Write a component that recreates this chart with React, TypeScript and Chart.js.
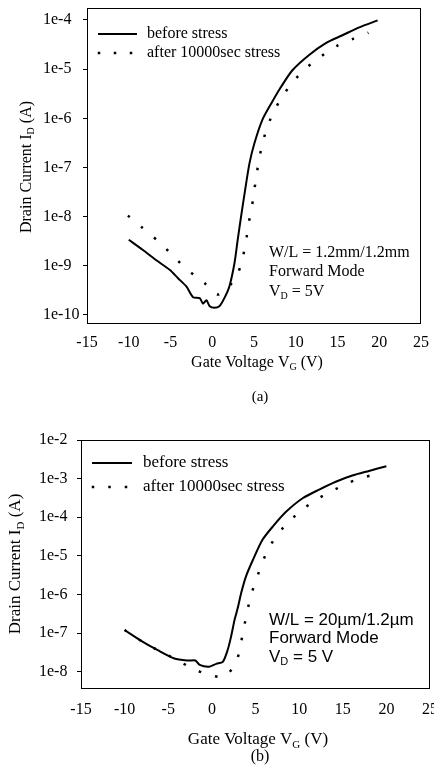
import React, { useEffect, useRef } from "react";
import { Chart, registerables } from "chart.js";

Chart.register(...registerables);

// ---------- shared ----------
const xTicks = [-15, -10, -5, 0, 5, 10, 15, 20, 25];
const seriesLabels = ["before stress", "after 10000sec stress"];

// ---------- chart (a) ----------
const vgBeforeA = [-10, -8.3, -6.7, -5.1, -4.1, -3.1, -2.3, -1.5, -1.1, -0.7, -0.3, 0.25, 0.85, 1.45, 2.05, 2.65, 3.05, 3.45, 3.85, 4.45, 5.05, 6.0, 7.2, 8.1, 9.6, 11.6, 13.6, 15.6, 17.6, 19.8];
const idBeforeA = [3.4e-9, 2.1e-9, 1.3e-9, 8.3e-10, 5.6e-10, 3.8e-10, 2.3e-10, 2.2e-10, 1.7e-10, 2.0e-10, 1.5e-10, 1.4e-10, 1.5e-10, 2.2e-10, 3.8e-10, 1.1e-9, 3.4e-9, 1.0e-8, 2.8e-8, 1.2e-7, 3.1e-7, 9.3e-7, 2.2e-6, 4.0e-6, 9.5e-6, 1.95e-5, 3.4e-5, 4.9e-5, 7.1e-5, 9.8e-5];
const vgAfterA = [-10.1, -8.4, -6.5, -5.0, -3.5, -2.1, -0.75, 0.6, 1.85, 3.1, 3.65, 4.05, 4.3, 4.7, 4.95, 5.25, 5.55, 5.95, 6.45, 7.2, 8.2, 9.6, 11.3, 13.1, 14.9, 16.8, 18.7];
const idAfterA = [1.05e-8, 6.0e-9, 3.2e-9, 1.8e-9, 1.0e-9, 6.3e-10, 4.2e-10, 2.6e-10, 3.5e-10, 7.2e-10, 1.5e-9, 3.1e-9, 6.6e-9, 1.4e-8, 2.8e-8, 6.0e-8, 1.3e-7, 2.75e-7, 5.6e-7, 1.2e-6, 2.45e-6, 5.4e-6, 1.07e-5, 1.86e-5, 2.95e-5, 4.1e-5, 5.5e-5];
const yTicksA = [1e-10, 1e-9, 1e-8, 1e-7, 1e-6, 1e-5, 1e-4];
const yTickLabelsA = ["1e-10", "1e-9", "1e-8", "1e-7", "1e-6", "1e-5", "1e-4"];
const notesA = ["W/L = 1.2mm/1.2mm", "Forward Mode"];

// ---------- chart (b) ----------
const vgBeforeB = [-10, -8.1, -6.2, -4.3, -2.7, -1.9, -1.4, -0.3, 0.5, 1.25, 1.8, 2.2, 2.6, 3.0, 3.35, 3.9, 4.7, 5.8, 7.0, 8.5, 10.4, 12.3, 14.2, 16.1, 18.0, 20.0];
const idBeforeB = [1.2e-7, 6.3e-8, 3.6e-8, 2.2e-8, 1.95e-8, 1.95e-8, 1.5e-8, 1.35e-8, 1.6e-8, 1.8e-8, 3.6e-8, 8.1e-8, 2.2e-7, 4.8e-7, 1.07e-6, 2.9e-6, 7.8e-6, 2.6e-5, 5.8e-5, 1.38e-4, 3.1e-4, 5.2e-4, 8.3e-4, 1.2e-3, 1.58e-3, 2.1e-3];
const vgAfterB = [-10, -8.1, -6.2, -4.3, -2.3, -0.35, 1.45, 2.8, 3.27, 3.65, 4.04, 4.5, 5.14, 5.82, 6.78, 8.19, 10.05, 11.9, 13.8, 15.7, 17.6, 19.5];
const idAfterB = [1.2e-7, 6.3e-8, 3.6e-8, 2.2e-8, 1.23e-8, 8.3e-9, 7.4e-9, 1.8e-8, 4.7e-8, 1.3e-7, 3.5e-7, 9.8e-7, 2.6e-6, 7.1e-6, 2.0e-5, 5.4e-5, 1.38e-4, 2.8e-4, 4.8e-4, 7.9e-4, 1.1e-3, 1.48e-3];
const yTicksB = [1e-8, 1e-7, 1e-6, 1e-5, 1e-4, 1e-3, 1e-2];
const yTickLabelsB = ["1e-8", "1e-7", "1e-6", "1e-5", "1e-4", "1e-3", "1e-2"];
const notesB = ["W/L = 20\u00b5m/1.2\u00b5m", "Forward Mode"];

type Seg = { t: string; sub?: boolean };

function drawRich(ctx: CanvasRenderingContext2D, segs: Seg[], x: number, y: number, size: number, family: string, align: "left" | "center") {
  const big = `${size}px "${family}"`;
  const small = `${Math.round(size * 0.65)}px "${family}"`;
  let w = 0;
  for (const s of segs) {
    ctx.font = s.sub ? small : big;
    w += ctx.measureText(s.t).width;
  }
  let cx = align === "center" ? x - w / 2 : x;
  ctx.textBaseline = "middle";
  ctx.textAlign = "left";
  ctx.fillStyle = "#000";
  for (const s of segs) {
    ctx.font = s.sub ? small : big;
    ctx.fillText(s.t, cx, s.sub ? y + size * 0.3 : y);
    cx += ctx.measureText(s.t).width;
  }
}

interface Spec {
  vgBefore: number[];
  idBefore: number[];
  vgAfter: number[];
  idAfter: number[];
  yTicks: number[];
  yTickLabels: string[];
  notes: string[];
  vdNote: string;
  caption: string;
  yMin: number;
  yMax: number;
  width: number;
  height: number;
  pad: { left: number; top: number; right: number };
  yAxisWidth: number;
  xAxisHeight: number;
  tickFont: number;
  tickPadX: number;
  textFont: number;
  noteFamily: string;
  noteFont: number;
  noteX: number;
  noteY: number[];
  legend: { lineX: [number, number]; y1: number; y2: number; dots: number[]; textX: number };
  xTitle: { x: number; y: number };
  yTitle: { x: number; y: number };
  captionPos: { x: number; y: number };
}

const serif = "Liberation Serif";

function makeConfig(s: Spec): any {
  const decor = {
    id: "decor",
    afterDraw(chart: any) {
      const ctx: CanvasRenderingContext2D = chart.ctx;
      const a = chart.chartArea;
      ctx.save();
      // frame
      ctx.strokeStyle = "#000";
      ctx.lineWidth = 1;
      ctx.strokeRect(Math.round(a.left) + 0.5, Math.round(a.top) + 0.5, Math.round(a.right - a.left) - 1, Math.round(a.bottom - a.top));
      // legend
      ctx.lineWidth = 2;
      ctx.beginPath();
      ctx.moveTo(s.legend.lineX[0], s.legend.y1);
      ctx.lineTo(s.legend.lineX[1], s.legend.y1);
      ctx.stroke();
      ctx.fillStyle = "#000";
      for (const dx of s.legend.dots) ctx.fillRect(dx - 1.25, s.legend.y2 - 1.25, 2.5, 2.5);
      drawRich(ctx, [{ t: seriesLabels[0] }], s.legend.textX, s.legend.y1, s.textFont, serif, "left");
      drawRich(ctx, [{ t: seriesLabels[1] }], s.legend.textX, s.legend.y2, s.textFont, serif, "left");
      // notes
      drawRich(ctx, [{ t: s.notes[0] }], s.noteX, s.noteY[0], s.noteFont, s.noteFamily, "left");
      drawRich(ctx, [{ t: s.notes[1] }], s.noteX, s.noteY[1], s.noteFont, s.noteFamily, "left");
      drawRich(ctx, [{ t: "V" }, { t: "D", sub: true }, { t: s.vdNote }], s.noteX, s.noteY[2], s.noteFont, s.noteFamily, "left");
      // x title
      drawRich(ctx, [{ t: "Gate Voltage V" }, { t: "G", sub: true }, { t: " (V)" }], s.xTitle.x, s.xTitle.y, s.textFont, serif, "center");
      // y title
      ctx.save();
      ctx.translate(s.yTitle.x, s.yTitle.y);
      ctx.rotate(-Math.PI / 2);
      drawRich(ctx, [{ t: "Drain Current I" }, { t: "D", sub: true }, { t: " (A)" }], 0, 0, s.textFont, serif, "center");
      ctx.restore();
      // caption
      drawRich(ctx, [{ t: s.caption }], s.captionPos.x, s.captionPos.y, s.textFont - 1, serif, "center");
      ctx.restore();
    },
  };

  return {
    type: "line",
    data: {
      datasets: [
        {
          label: seriesLabels[0],
          data: s.vgBefore.map((x, i) => ({ x, y: s.idBefore[i] })),
          borderColor: "#000",
          borderWidth: 2,
          pointRadius: 0,
          tension: 0.25,
          fill: false,
        },
        {
          label: seriesLabels[1],
          data: s.vgAfter.map((x, i) => ({ x, y: s.idAfter[i] })),
          borderColor: "#000",
          borderWidth: 2.5,
          borderDash: [2.5, 14.5],
          borderCapStyle: "butt",
          pointRadius: 0,
          tension: 0.25,
          fill: false,
        },
      ],
    },
    options: {
      animation: false,
      responsive: false,
      devicePixelRatio: 1,
      layout: { padding: { left: s.pad.left, top: s.pad.top, right: s.pad.right, bottom: 0 } },
      plugins: { legend: { display: false }, tooltip: { enabled: false } },
      scales: {
        x: {
          type: "linear",
          min: -15,
          max: 25,
          afterBuildTicks: (sc: any) => {
            sc.ticks = xTicks.map((v) => ({ value: v }));
          },
          afterFit: (sc: any) => {
            sc.height = s.xAxisHeight;
            sc.paddingLeft = 0;
            sc.paddingRight = 0;
          },
          grid: { display: false, drawTicks: false },
          border: { display: false },
          ticks: {
            color: "#000",
            font: { family: serif, size: s.tickFont },
            padding: s.tickPadX,
            maxRotation: 0,
            autoSkip: false,
            callback: (v: number) => String(v),
          },
        },
        y: {
          type: "logarithmic",
          min: s.yMin,
          max: s.yMax,
          afterBuildTicks: (sc: any) => {
            sc.ticks = s.yTicks.map((v) => ({ value: v }));
          },
          afterFit: (sc: any) => {
            sc.width = s.yAxisWidth;
            sc.paddingTop = 0;
            sc.paddingBottom = 0;
          },
          grid: { drawOnChartArea: false, drawTicks: true, tickLength: 4, color: "#000" },
          border: { display: false },
          ticks: {
            color: "#000",
            font: { family: serif, size: s.tickFont },
            crossAlign: "far",
            autoSkip: false,
            callback: (v: number) => {
              const i = s.yTicks.indexOf(v);
              return i >= 0 ? s.yTickLabels[i] : "";
            },
          },
        },
      },
    },
    plugins: [decor],
  };
}

const specA: Spec = {
  vgBefore: vgBeforeA,
  idBefore: idBeforeA,
  vgAfter: vgAfterA,
  idAfter: idAfterA,
  yTicks: yTicksA,
  yTickLabels: yTickLabelsA,
  notes: notesA,
  vdNote: " = 5V",
  caption: "(a)",
  yMin: Math.pow(10, -10.163),
  yMax: Math.pow(10, -3.756),
  width: 434,
  height: 410,
  pad: { left: 43, top: 8, right: 13 },
  yAxisWidth: 44,
  xAxisHeight: 87,
  tickFont: 16,
  tickPadX: 10,
  textFont: 16,
  noteFamily: serif,
  noteFont: 16,
  noteX: 269,
  noteY: [253, 272, 292],
  legend: { lineX: [98, 137], y1: 34, y2: 53, dots: [99, 115, 131], textX: 147 },
  xTitle: { x: 257, y: 363 },
  yTitle: { x: 27, y: 167 },
  captionPos: { x: 260, y: 397 },
};

const specB: Spec = {
  vgBefore: vgBeforeB,
  idBefore: idBeforeB,
  vgAfter: vgAfterB,
  idAfter: idAfterB,
  yTicks: yTicksB,
  yTickLabels: yTickLabelsB,
  notes: notesB,
  vdNote: " = 5 V",
  caption: "(b)",
  yMin: Math.pow(10, -8.422),
  yMax: 1e-2,
  width: 434,
  height: 368,
  pad: { left: 39, top: 30, right: 4 },
  yAxisWidth: 42,
  xAxisHeight: 90,
  tickFont: 16,
  tickPadX: 12,
  textFont: 17,
  noteFamily: "Liberation Sans",
  noteFont: 17,
  noteX: 269,
  noteY: [210, 228.5, 247],
  legend: { lineX: [92, 132], y1: 53, y2: 77, dots: [93, 109.5, 126], textX: 143 },
  xTitle: { x: 258, y: 330 },
  yTitle: { x: 16, y: 154 },
  captionPos: { x: 260, y: 347 },
};

function Plot({ spec, top }: { spec: Spec; top: number }) {
  const ref = useRef<HTMLCanvasElement | null>(null);
  useEffect(() => {
    if (!ref.current) return;
    const chart = new Chart(ref.current, makeConfig(spec));
    return () => chart.destroy();
  }, [spec]);
  return (
    <canvas
      ref={ref}
      width={spec.width}
      height={spec.height}
      style={{ position: "absolute", left: 0, top, width: spec.width, height: spec.height, display: "block" }}
    />
  );
}

export default function App() {
  return (
    <div style={{ position: "absolute", left: 0, top: 0, width: 434, height: 778, overflow: "hidden", background: "#fff" }}>
      <Plot spec={specA} top={0} />
      <Plot spec={specB} top={410} />
    </div>
  );
}
